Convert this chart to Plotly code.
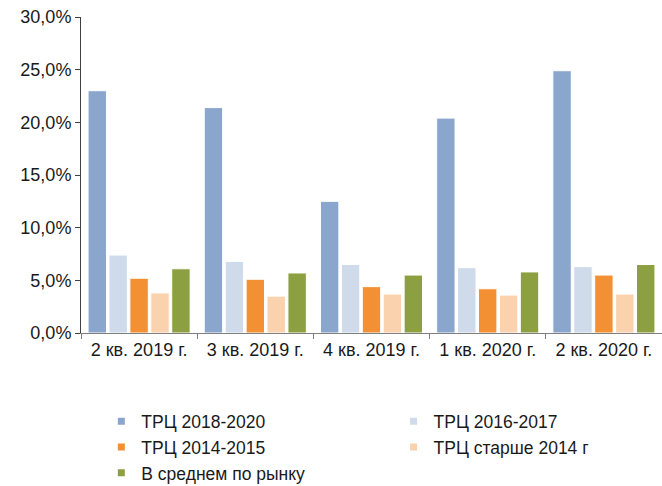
import plotly.graph_objects as go

quarters = ['2 кв. 2019 г.', '3 кв. 2019 г.', '4 кв. 2019 г.', '1 кв. 2020 г.', '2 кв. 2020 г.']
series_names = ['ТРЦ 2018-2020', 'ТРЦ 2016-2017', 'ТРЦ 2014-2015', 'ТРЦ старше 2014 г', 'В среднем по рынку']
trc_2018_2020 = [23.0, 21.4, 12.5, 20.4, 24.9]
trc_2016_2017 = [7.4, 6.8, 6.5, 6.2, 6.3]
trc_2014_2015 = [5.2, 5.1, 4.4, 4.2, 5.5]
trc_before_2014 = [3.8, 3.5, 3.7, 3.6, 3.7]
market_avg = [6.1, 5.7, 5.5, 5.8, 6.5]

colors = ['#8BA6CD', '#CFDBEA', '#F39034', '#FAD2AE', '#8CA042']
values = [trc_2018_2020, trc_2016_2017, trc_2014_2015, trc_before_2014, market_avg]
# left legend column gets series 1, 3, 5; right column gets 2, 4
legend_ids = ['legend', 'legend2', 'legend', 'legend2', 'legend']

fig = go.Figure()
for name, vals, col in zip(series_names, values, colors):
    fig.add_trace(go.Bar(x=quarters, y=vals, name=name, showlegend=False,
                         marker=dict(color=col, line=dict(color='#FFFFFF', width=1))))

# small square legend markers, like the original
for name, col, lg in zip(series_names, colors, legend_ids):
    fig.add_trace(go.Scatter(x=[None], y=[None], mode='markers', name=name, legend=lg,
                             marker=dict(symbol='square', size=7, color=col)))

legend_style = dict(orientation='v', xanchor='left', yref='container', yanchor='top',
                    y=0.17, itemwidth=30, font=dict(size=17.5), tracegroupgap=0,
                    bgcolor='rgba(0,0,0,0)')

fig.update_layout(
    width=662, height=486,
    margin=dict(l=81, r=0, t=17, b=153),
    plot_bgcolor='white', paper_bgcolor='white',
    font=dict(family='Liberation Sans, Arial, sans-serif', size=18, color='#1a1a1a'),
    separators=', ',
    barmode='group', bargap=0.1, bargroupgap=0.12,
    legend=dict(x=0.035, **legend_style),
    legend2=dict(x=0.538, **legend_style),
)
fig.update_xaxes(showline=True, linecolor='#7f7f7f', linewidth=1,
                 ticks='outside', tickson='boundaries', ticklen=5, tickcolor='#7f7f7f',
                 showgrid=False, range=[-0.5, 4.5])
fig.update_yaxes(range=[0, 30], dtick=5, tickformat='.1f', ticksuffix='%',
                 showline=True, linecolor='#404040', linewidth=1,
                 ticks='outside', ticklen=5, tickcolor='#404040',
                 showgrid=False, zeroline=False)

fig.write_html("out.html", config={'displayModeBar': False},
               post_script="document.body.style.margin='0';")
